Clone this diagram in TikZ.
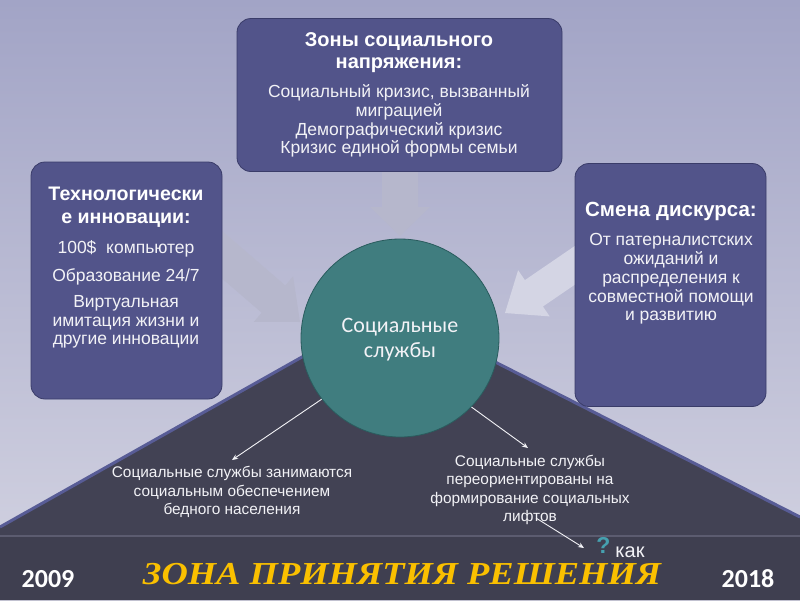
\documentclass[tikz,border=0pt]{standalone}
\usepackage{fontspec}
\setmainfont{Liberation Sans}
\newfontfamily\calib{Carlito}
\newfontfamily\scriptf{Liberation Serif}
\usetikzlibrary{arrows.meta}
\definecolor{bgtop}{RGB}{162,164,198}
\definecolor{bgbot}{RGB}{212,212,226}
\definecolor{boxfill}{RGB}{82,84,138}
\definecolor{boxedge}{RGB}{58,60,105}
\definecolor{tri}{RGB}{66,66,84}
\definecolor{triedge}{RGB}{88,92,150}
\definecolor{bandc}{RGB}{63,63,80}
\definecolor{bandline}{RGB}{92,92,112}
\definecolor{tealc}{RGB}{64,125,127}
\definecolor{tealedge}{RGB}{42,92,94}
\definecolor{garrow}{RGB}{182,183,204}
\definecolor{garrowl}{RGB}{212,213,228}
\definecolor{goldc}{RGB}{250,192,0}
\definecolor{qteal}{RGB}{70,160,175}
\definecolor{txt}{RGB}{242,242,246}
\tikzset{
 box/.style={draw=boxedge, line width=0.8pt, fill=boxfill, rounded corners=14pt, inner sep=0pt},
 ttl/.style={text=white, font=\bfseries\fontsize{20}{22}\selectfont, align=center, inner sep=0pt},
 bdy/.style={text=txt, font=\fontsize{17.5}{18.7}\selectfont, align=center, inner sep=0pt},
 low/.style={text=txt, font=\fontsize{15.4}{18.5}\selectfont, align=center, inner sep=0pt},
 pointer/.style={draw=txt, line width=0.9pt, -{Stealth[length=6pt,width=5pt]}},
}
\begin{document}
\begin{tikzpicture}[x=1pt,y=-1pt]
\useasboundingbox (0,0) rectangle (800,600);
% background
\shade[top color=bgtop, bottom color=bgbot] (0,0) rectangle (800,600);
% dark triangle
\fill[tri] (389,308) -- (0,527) -- (0,600) -- (800,600) -- (800,517) -- cycle;
\draw[triedge, line width=3pt] (0,527) -- (389,308) -- (800,517);
% band
\fill[bandc] (0,536) rectangle (800,600);
\draw[bandline, line width=1.5pt] (0,536) -- (800,536);
% gray block arrows
\fill[garrow] (382,168) -- (418,168) -- (418,207) -- (430,207) -- (400,236) -- (370,207) -- (382,207) -- cycle;
\fill[garrow] (189.8,250.7) -- (261.7,312.7) -- (253.9,321.8) -- (300,322) -- (293.1,276.4) -- (285.3,285.5) -- (213.4,223.5) -- cycle;
\fill[garrowl] (613.1,258.5) -- (542.9,306.5) -- (549.7,316.4) -- (505,313) -- (518.1,270.2) -- (524.9,280.1) -- (595.1,232.1) -- cycle;
% boxes
\node[box, minimum width=325pt, minimum height=153pt] (topbox) at (399.5,95) {};
\node[box, minimum width=191pt, minimum height=237pt] (leftbox) at (126.5,280.5) {};
\node[box, minimum width=191pt, minimum height=243pt] (rightbox) at (670.5,285) {};
% circle
\node[circle, minimum size=198pt, inner sep=0pt, fill=tealc, draw=tealedge, line width=0.8pt] (c) at (400,338) {};
% top box text
\node[ttl] (tt) at (399,53) {Зоны социального\\напряжения:};
\node[bdy] (tb) at (399,121) {Социальный кризис, вызванный\\миграцией\\Демографический кризис\\Кризис единой формы семьи};
% left box text
\node[ttl, font=\bfseries\fontsize{19.6}{23}\selectfont] (lt) at (126,207.5) {Технологически\\е инновации:};
\node[bdy] (lb1) at (126,249) {100\$\ \ компьютер};
\node[bdy] (lb2) at (126,277) {Образование 24/7};
\node[bdy] (lb3) at (126,322) {Виртуальная\\имитация жизни и\\другие инновации};
% right box text
\node[ttl, font=\bfseries\fontsize{20.5}{22}\selectfont] (rt) at (671,211) {Смена дискурса:};
\node[bdy] (rb) at (671,279) {От патерналистских\\ожиданий и\\распределения к\\совместной помощи\\и развитию};
% circle text
\node[text=txt, font=\calib\fontsize{22}{25}\selectfont, align=center, inner sep=0pt] (ct) at (400,340) {Социальные\\службы};
% pointers
\coordinate (e1) at (232,460);
\coordinate (e2) at (528,448);
\coordinate (s3) at (536,518);
\coordinate (e3) at (584,548);
\draw[pointer] (c.218) -- (e1);
\draw[pointer] (c.316) -- (e2);
\draw[pointer] (s3) -- (e3);
% lower texts
\node[low] (l1) at (232,492) {Социальные службы занимаются\\социальным обеспечением\\бедного населения};
\node[low] (l2) at (530,490) {Социальные службы\\переориентированы на\\формирование социальных\\лифтов};
% band texts
\node[text=white, font=\calib\bfseries\fontsize{26}{30}\selectfont, inner sep=0pt] (y1) at (48,579) {2009};
\node[text=white, font=\calib\bfseries\fontsize{26}{30}\selectfont, inner sep=0pt] (y2) at (748,579) {2018};
\node[text=goldc, font=\scriptf\bfseries\itshape\fontsize{32}{34}\selectfont, inner sep=0pt, xscale=1.14] (zone) at (402,574) {ЗОНА ПРИНЯТИЯ РЕШЕНИЯ};
\node[text=qteal, font=\bfseries\fontsize{23}{25}\selectfont, inner sep=0pt] (q) at (603.5,545) {?};
\node[text=txt, font=\fontsize{20}{22}\selectfont, inner sep=0pt] (kak) at (630,552.5) {как};
\end{tikzpicture}
\end{document}
